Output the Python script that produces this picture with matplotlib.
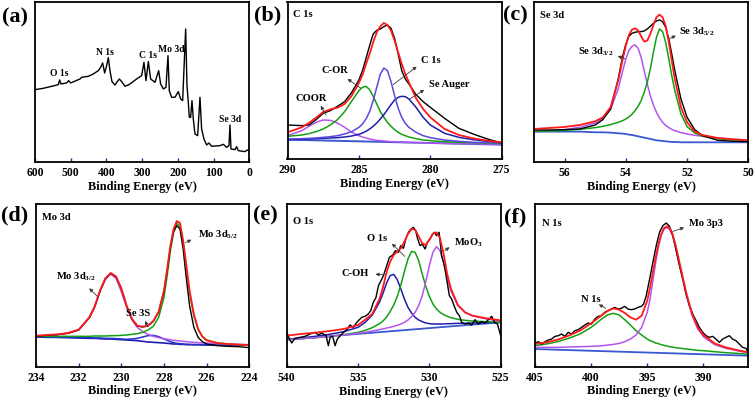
import matplotlib
matplotlib.use('Agg')
import matplotlib.pyplot as plt

plt.rcParams['font.family'] = 'Liberation Serif'
plt.rcParams['font.weight'] = 'bold'
plt.rcParams['mathtext.fontset'] = 'custom'
plt.rcParams['mathtext.rm'] = 'Liberation Serif:bold'
plt.rcParams['mathtext.it'] = 'Liberation Serif:bold'
plt.rcParams['mathtext.bf'] = 'Liberation Serif:bold'

#%% (a) survey
survey_be = [600, 576.7, 553.3, 534.7, 531.0, 527.2, 511.4, 505.8, 500.2, 474.0,
             469.4, 450.7, 436.7, 422.7, 416.2, 410.6, 405.0, 399.4, 394.7, 390.1,
             384.5, 376.1, 369.5, 363.9, 357.4, 348.1, 338.7, 334.1, 315.4, 301.4,
             294.9, 289.3, 282.7, 276.2, 264.1, 253.8, 248.2, 240.8, 233.3, 227.7,
             224.0, 217.4, 208.1, 198.8, 192.2, 186.6, 178.2, 174.5, 170.8, 168.0,
             164.2, 160.5, 156.8, 152.1, 144.6, 138.1, 133.5, 126.9, 119.5, 112.9,
             105.5, 82.1, 72.8, 63.5, 56.9, 54.1, 51.3, 40.1, 35.5, 30.8,
             12.2, 5.6, 0.0]
survey_int = [218, 222, 228, 233, 247, 235, 238, 245, 238, 250,
              255, 258, 265, 275, 285, 298, 268, 290, 314, 275,
              242, 232, 242, 250, 242, 228, 232, 235, 250, 260,
              300, 245, 302, 250, 240, 275, 235, 220, 225, 320,
              215, 195, 195, 212, 190, 185, 400, 230, 180, 135,
              135, 185, 130, 85, 80, 195, 100, 70, 52, 58,
              48, 50, 54, 45, 50, 112, 40, 38, 47, 35,
              32, 37, 35]
survey_labels = ['O 1s', 'N 1s', 'C 1s', 'Mo 3d', 'Se 3d']
survey_label_be = [531.9, 404, 282.7, 217.4, 54]
survey_label_int = [270, 333, 323, 342, 132]

#%% (b) C 1s
c1s_be = [290, 289, 288.5, 288, 287.5, 287, 286.5, 286, 285.5, 285, 284.75, 284.5,
          284.25, 284, 283.75, 283.5, 283.25, 283, 282.75, 282.5, 282.25, 282,
          281.75, 281.5, 281, 280.5, 280, 279, 278, 277, 276, 275]
c1s_raw = [97, 95, 97, 113, 132, 140, 153, 167, 195, 232, 260, 297,
           335, 370, 381, 385, 392, 397, 387, 357, 310, 260,
           235, 220, 188, 167, 150, 117, 87, 70, 55, 43]
c1s_fit = [75, 90, 103, 119, 136, 144, 149, 160, 185, 223, 247, 280,
           310, 345, 375, 393, 403, 397, 380, 350, 315, 280,
           250, 225, 177, 145, 120, 85, 67, 57, 50, 45]
c1s_cor = [63, 67, 71, 77, 85, 97, 113, 137, 169, 200, 210, 213,
           203, 183, 160, 137, 120, 105, 93, 83, 75, 69,
           65, 61, 56, 52, 50, 47, 45, 44, 43, 42]
c1s_cc = [55, 56, 57, 58, 60, 62, 65, 70, 77, 90, 100, 115,
          137, 170, 210, 250, 268, 260, 227, 185, 147, 120,
          102, 90, 75, 65, 59, 52, 48, 45, 44, 43]
c1s_auger = [53, 54, 55, 56, 57, 58, 59, 61, 64, 69, 73, 78,
             85, 93, 103, 115, 128, 143, 158, 172, 180, 183,
             182, 175, 150, 120, 97, 72, 60, 53, 48, 45]
c1s_coor = [65, 80, 93, 105, 112, 111, 103, 90, 75, 65, 61, 58,
            55, 53, 51, 50, 49, 48, 47, 47, 46, 46,
            45, 45, 44, 44, 43, 42, 41, 41, 40, 40]
c1s_bg_be = [290, 275]
c1s_bg = [53, 38]

#%% (c) Se 3d
se_be = [57, 56.5, 56, 55.5, 55, 54.75, 54.5, 54.25, 54.1, 54, 53.9, 53.8, 53.7,
         53.6, 53.5, 53.4, 53.3, 53.2, 53.1, 53, 52.9, 52.8, 52.7, 52.6, 52.5,
         52.4, 52.2, 52, 51.75, 51.5, 51, 50.5, 50]
se_raw = [97, 97, 98, 100, 112, 128, 160, 250, 320, 355, 378, 387, 390,
          392, 392, 394, 400, 408, 417, 424, 427, 422, 405, 372, 325,
          275, 190, 135, 98, 80, 66, 63, 62]
se_fit = [100, 103, 106, 112, 123, 135, 165, 245, 310, 350, 382, 398, 402,
          396, 378, 362, 365, 385, 412, 435, 443, 435, 410, 362, 305,
          250, 165, 120, 92, 82, 73, 69, 66]
se_52 = [93, 94, 96, 99, 104, 108, 113, 120, 125, 130, 136, 144, 155,
         168, 185, 210, 240, 280, 330, 375, 400, 392, 360, 312, 260,
         215, 145, 107, 88, 79, 71, 67, 64]
se_32 = [92, 94, 98, 105, 118, 132, 158, 220, 275, 310, 335, 348, 352,
         342, 315, 275, 235, 200, 172, 150, 133, 120, 111, 104, 99,
         95, 89, 85, 81, 78, 73, 69, 66]
se_bg = [92, 92, 92, 92, 90, 90, 89, 87, 86, 85, 83, 82, 80,
         78, 76, 74, 72, 70, 68, 66, 65, 64, 63, 62, 61,
         61, 60, 60, 60, 60, 60, 60, 60]

#%% (d) Mo 3d
mo_be = [234, 233.5, 233, 232.5, 232, 231.5, 231.25, 231, 230.75, 230.5, 230.25, 230,
         229.75, 229.5, 229.25, 229, 228.75, 228.5, 228.25, 228, 227.85, 227.7,
         227.55, 227.4, 227.25, 227.1, 226.95, 226.8, 226.6, 226.4, 226.2, 226,
         225.5, 225, 224.5, 224]
mo_raw = [85, 88, 90, 94, 104, 141, 174, 221, 258, 274, 264, 228,
          176, 136, 116, 113, 116, 130, 158, 220, 282, 352,
          399, 417, 407, 347, 257, 177, 112, 82, 69, 62,
          57, 55, 54, 51]
mo_fit = [87, 89, 91, 95, 105, 142, 175, 222, 259, 275, 265, 229,
          177, 137, 117, 114, 117, 131, 159, 222, 287, 357,
          407, 431, 425, 372, 297, 222, 152, 107, 84, 73,
          65, 62, 60, 59]
mo_52 = [85, 85, 85, 85, 85, 85, 86, 86, 86, 87, 87, 88,
         89, 91, 93, 97, 104, 115, 142, 202, 267, 342,
         397, 425, 415, 362, 287, 215, 147, 105, 84, 74,
         65, 62, 60, 59]
mo_32 = [85, 87, 90, 95, 104, 140, 172, 219, 255, 272, 259, 219,
         172, 135, 112, 99, 91, 85, 81, 78, 76, 75,
         73, 72, 71, 70, 69, 68, 67, 66, 65, 65,
         63, 62, 61, 60]
mo_se3s = [83, 83, 82, 82, 81, 81, 80, 80, 79, 79, 78, 77,
           76, 77, 79, 83, 87, 88, 84, 77, 73, 69,
           66, 64, 63, 62, 61, 61, 60, 60, 60, 59,
           59, 59, 59, 59]
mo_bg = [83, 82, 82, 81, 80, 79, 79, 78, 77, 77, 76, 75,
         74, 73, 72, 70, 68, 67, 66, 65, 64, 63,
         62, 62, 61, 61, 60, 60, 60, 60, 59, 59,
         59, 59, 59, 59]

#%% (e) O 1s
o_be = [540, 539, 538, 537, 536, 535, 534.5, 534, 533.5, 533.25, 533, 532.75,
        532.5, 532.25, 532, 531.75, 531.5, 531.25, 531, 530.75, 530.5, 530.25,
        530, 529.75, 529.5, 529.25, 529, 528.75, 528.5, 528, 527.5, 527, 526, 525]
o_fit = [90, 95, 99, 104, 110, 122, 138, 155, 200, 235, 280, 312,
         332, 342, 352, 372, 395, 410, 408, 388, 367, 362,
         378, 396, 400, 382, 335, 275, 232, 182, 160, 150, 142, 136]
o_o1s = [78, 81, 84, 88, 93, 100, 106, 114, 126, 134, 146, 162,
         182, 208, 242, 282, 320, 343, 340, 315, 275, 238,
         208, 185, 170, 160, 153, 148, 144, 139, 136, 134, 132, 130]
o_coh = [79, 83, 88, 94, 102, 115, 130, 152, 190, 217, 248, 270,
         274, 258, 230, 200, 175, 158, 145, 137, 132, 128,
         126, 125, 125, 125, 125, 126, 126, 127, 127, 128, 129, 130]
o_moo3 = [78, 81, 84, 88, 92, 97, 100, 104, 108, 110, 113, 115,
          118, 121, 125, 130, 137, 147, 160, 180, 210, 252,
          300, 340, 357, 345, 310, 262, 225, 180, 160, 150, 140, 134]
o_raw_be = [540.00, 539.81, 539.65, 539.42, 539.07, 538.71, 538.36, 538.01, 537.78, 537.55,
            537.24, 537.08, 536.96, 536.78, 536.61, 536.45, 536.14, 535.79, 535.56, 535.33,
            535.09, 534.74, 534.51, 534.28, 534.11, 533.93, 533.74, 533.57, 533.39, 533.22,
            532.99, 532.80, 532.57, 532.38, 532.17, 532.01, 531.82, 531.64, 531.47, 531.29,
            531.12, 530.96, 530.82, 530.65, 530.49, 530.30, 530.14, 529.95, 529.77, 529.65,
            529.49, 529.32, 529.14, 528.95, 528.79, 528.60, 528.44, 528.27, 528.08, 527.90,
            527.73, 527.50, 527.27, 527.03, 526.80, 526.57, 526.33, 526.10, 525.86, 525.63,
            525.44, 525.23, 525.00]
o_raw = [102, 80, 68, 82, 85, 88, 95, 100, 92, 98,
         90, 60, 85, 88, 60, 80, 95, 108, 122, 115,
         130, 145, 148, 155, 165, 190, 205, 240, 255, 270,
         300, 325, 332, 345, 340, 360, 352, 382, 400, 410,
         415, 405, 380, 360, 365, 350, 370, 380, 395, 400,
         390, 400, 330, 300, 260, 210, 200, 180, 160, 150,
         130, 125, 128, 122, 138, 125, 132, 128, 138, 148,
         130, 125, 90]
o_bg_be = [540, 525]
o_bg = [78, 130]

#%% (f) N 1s
n_be = [405, 404, 403, 402, 401, 400, 399.5, 399, 398.5, 398, 397.5, 397, 396.5,
        396, 395.5, 395, 394.75, 394.5, 394.25, 394, 393.75, 393.5, 393.25, 393,
        392.75, 392.5, 392.25, 392, 391.5, 391, 390.5, 390, 389, 388, 387, 386]
n_fit = [65, 70, 78, 90, 105, 127, 140, 153, 165, 172, 168, 158, 145,
         138, 150, 195, 235, 280, 325, 365, 395, 413, 418, 412,
         395, 365, 328, 290, 215, 155, 115, 92, 67, 55, 47, 40]
n_n1s = [60, 65, 72, 82, 95, 115, 128, 142, 153, 157, 152, 138, 122,
         105, 92, 80, 75, 72, 68, 66, 63, 61, 59, 57,
         56, 54, 53, 52, 50, 48, 46, 45, 42, 39, 37, 34]
n_mo3p = [55, 55, 55, 56, 57, 58, 59, 60, 62, 64, 67, 72, 80,
          92, 115, 160, 200, 255, 310, 358, 392, 410, 415, 408,
          390, 360, 322, 282, 208, 150, 110, 87, 63, 52, 45, 38]
n_raw_be = [405.00, 404.70, 404.41, 403.96, 403.52, 403.22, 402.93, 402.63, 402.34, 402.04,
            401.75, 401.45, 401.15, 400.86, 400.56, 400.27, 399.97, 399.67, 399.38, 399.08,
            398.79, 398.49, 398.20, 397.90, 397.60, 397.31, 397.01, 396.72, 396.42, 396.12,
            395.83, 395.53, 395.33, 395.09, 394.79, 394.50, 394.20, 393.91, 393.61, 393.31,
            393.02, 392.72, 392.43, 392.13, 391.83, 391.54, 391.24, 390.95, 390.65, 390.36,
            390.06, 389.76, 389.47, 389.17, 388.88, 388.58, 388.28, 387.99, 387.69, 387.40,
            387.10, 386.80, 386.51, 386.21, 385.98]
n_raw = [68, 72, 65, 75, 80, 88, 90, 95, 88, 100,
         95, 105, 108, 115, 122, 128, 125, 140, 148, 150,
         160, 165, 170, 175, 170, 172, 178, 170, 168, 170,
         175, 178, 185, 210, 260, 310, 360, 400, 420, 428,
         418, 390, 345, 300, 260, 215, 180, 155, 135, 115,
         100, 90, 85, 88, 80, 70, 80, 85, 90, 80,
         75, 65, 55, 52, 38]
n_bg_be = [405, 386]
n_bg = [50, 30]

#%% colours
RED = '#ff1a1a'
GREEN = '#12a012'
VIOLET = '#b455f0'
BLUEV = '#5a48e0'
NAVY = '#1e1eaa'
BASE = '#3a58d0'
ARROW = '#3a3a3a'

fig = plt.figure(figsize=(7.56, 4.02), dpi=100)


def make_axes(l, t, r, b):
    return fig.add_axes([l / 756, 1 - b / 402, (r - l) / 756, (b - t) / 402])


def style(ax, xlim, ylim, ticks):
    ax.set_xlim(xlim)
    ax.set_ylim(ylim)
    ax.set_xticks(ticks)
    ax.set_xticklabels([str(t) for t in ticks], fontsize=8.4, fontweight='bold')
    ax.set_yticks([])
    ax.tick_params(axis='x', direction='in', length=3, width=1, color='#1a2a9a', pad=3)
    for s in ax.spines.values():
        s.set_linewidth(1.3)
    ax.set_xlabel('Binding Energy (eV)', fontsize=8.8, fontweight='bold', labelpad=1)


def label(ax, txt, xy_txt, head, tail, fs=7.6):
    ax.text(xy_txt[0], xy_txt[1], txt, fontsize=fs, fontweight='bold',
            ha='center', va='center')
    ax.annotate('', xy=head, xytext=tail,
                arrowprops=dict(arrowstyle='-|>', lw=0.6, color=ARROW, mutation_scale=5))


def title(ax, txt, x, y):
    ax.text(x, y, txt, transform=ax.transAxes, fontsize=7.6, fontweight='bold',
            va='center')


# (a)
ax = make_axes(35, 3.3, 249.3, 163.3)
ax.plot(survey_be, survey_int, color='black', lw=1.0)
for t, x, y in zip(survey_labels, survey_label_be, survey_label_int):
    ax.text(x, y, t, fontsize=6.9, fontweight='bold', ha='center', va='center')
style(ax, (600, 0), (0, 480), [600, 500, 400, 300, 200, 100, 0])

# (b)
ax = make_axes(287.5, 3.3, 501.7, 160)
ax.plot(c1s_bg_be, c1s_bg, color=BASE, lw=1.4)
ax.plot(c1s_be, c1s_coor, color=VIOLET, lw=1.1)
ax.plot(c1s_be, c1s_cor, color=GREEN, lw=1.1)
ax.plot(c1s_be, c1s_auger, color=NAVY, lw=1.1)
ax.plot(c1s_be, c1s_cc, color=BLUEV, lw=1.1)
ax.plot(c1s_be, c1s_raw, color='black', lw=1.0)
ax.plot(c1s_be, c1s_fit, color=RED, lw=1.3)
label(ax, 'COOR', (288.31, 178), (287.77, 162), (287.21, 120))
label(ax, 'C-OR', (286.67, 263), (285.96, 240), (284.72, 203))
label(ax, 'C 1s', (279.98, 292), (280.8, 277), (282.75, 213))
label(ax, 'Se Auger', (278.69, 220), (280.26, 207), (281.62, 170))
title(ax, 'C 1s', 0.028, 0.93)
style(ax, (290, 275), (-5, 465), [290, 285, 280, 275])

# (c)
ax = make_axes(534, 3.3, 748.3, 163.3)
ax.plot(se_be, se_bg, color=BASE, lw=1.3)
ax.plot(se_be, se_32, color=VIOLET, lw=1.1)
ax.plot(se_be, se_52, color=GREEN, lw=1.1)
ax.plot(se_be, se_raw, color='black', lw=1.0)
ax.plot(se_be, se_fit, color=RED, lw=1.3)
label(ax, r'Se 3d$_{3/2}$', (55.0, 335), (54.35, 322), (53.94, 307))
label(ax, r'Se 3d$_{5/2}$', (51.68, 395), (52.28, 383), (52.66, 368))
title(ax, 'Se 3d', 0.028, 0.925)
style(ax, (57, 50), (0, 480), [56, 54, 52, 50])

# (d)
ax = make_axes(36, 205, 249.3, 367.5)
ax.plot(mo_be, mo_bg, color=NAVY, lw=1.2)
ax.plot(mo_be, mo_se3s, color='#2430c8', lw=1.1)
ax.plot(mo_be, mo_32, color=VIOLET, lw=1.1)
ax.plot(mo_be, mo_52, color=GREEN, lw=1.1)
ax.plot(mo_be, mo_raw, color='black', lw=1.0)
ax.plot(mo_be, mo_fit, color=RED, lw=1.3)
label(ax, r'Mo 3d$_{3/2}$', (232.1, 267), (231.6, 235), (231.0, 197))
label(ax, r'Mo 3d$_{5/2}$', (225.45, 394), (226.6, 379), (227.1, 362))
label(ax, 'Se 3S', (229.2, 157), (228.94, 139), (228.7, 107))
title(ax, 'Mo 3d', 0.028, 0.92)
style(ax, (234, 224), (-5.5, 482), [234, 232, 230, 228, 226, 224])

# (e)
ax = make_axes(286.7, 205, 500.7, 368)
ax.plot(o_bg_be, o_bg, color=BASE, lw=1.3)
ax.plot(o_be, o_coh, color=NAVY, lw=1.1)
ax.plot(o_be, o_o1s, color=GREEN, lw=1.1)
ax.plot(o_be, o_moo3, color=VIOLET, lw=1.1)
ax.plot(o_raw_be, o_raw, color='black', lw=1.0)
ax.plot(o_be, o_fit, color=RED, lw=1.3)
label(ax, 'O 1s', (533.69, 385), (532.76, 372), (531.59, 322))
label(ax, 'C-OH', (535.21, 280), (533.97, 275), (532.99, 272))
label(ax, r'MoO$_3$', (527.27, 372), (528.43, 360), (529.09, 340))
title(ax, 'O 1s', 0.03, 0.9)
style(ax, (540, 525), (-4, 485), [540, 535, 530, 525])

# (f)
ax = make_axes(535, 205, 748.3, 367.7)
ax.plot(n_bg_be, n_bg, color=BASE, lw=1.3)
ax.plot(n_be, n_n1s, color=GREEN, lw=1.1)
ax.plot(n_be, n_mo3p, color=VIOLET, lw=1.1)
ax.plot(n_raw_be, n_raw, color='black', lw=1.0)
ax.plot(n_be, n_fit, color=RED, lw=1.3)
label(ax, 'N 1s', (400.06, 202), (399.53, 188), (398.49, 168))
label(ax, 'Mo 3p3', (389.76, 430), (391.48, 417), (392.96, 400))
title(ax, 'N 1s', 0.035, 0.885)
style(ax, (405, 386), (-3, 485), [405, 400, 395, 390])

for t, x, y in [('(a)', 15, 17), ('(b)', 268, 15), ('(c)', 515, 15),
                ('(d)', 15, 215), ('(e)', 265, 215), ('(f)', 515, 217)]:
    fig.text(x / 756, 1 - y / 402, t, fontsize=16, fontweight='bold',
             ha='center', va='center')

fig.savefig('out.png', dpi=100)
